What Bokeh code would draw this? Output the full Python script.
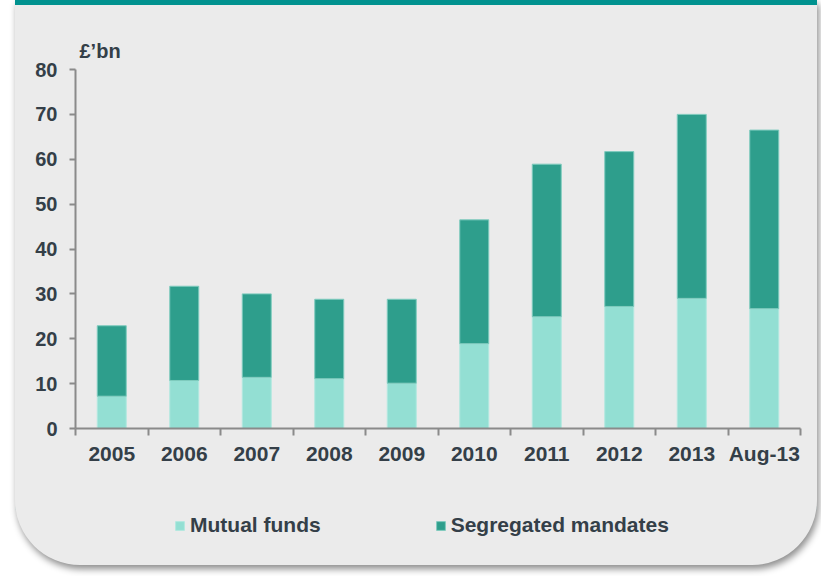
import numpy as np
from bokeh.plotting import figure
from bokeh.layouts import column
from bokeh.models import Range1d, FixedTicker, Legend, LegendItem, ColumnDataSource
from bokeh.embed import file_html
from bokeh.resources import INLINE

# ---- data ----
categories = ["2005", "2006", "2007", "2008", "2009", "2010", "2011", "2012", "2013", "Aug-13"]
mutual_funds = [7.2, 10.7, 11.4, 11.1, 10.1, 18.9, 24.9, 27.2, 29.0, 26.7]
segregated_mandates = [15.7, 21.0, 18.6, 17.7, 18.7, 27.6, 34.0, 34.5, 41.0, 39.8]
series_names = ["Mutual funds", "Segregated mandates"]
y_ticks = [0, 10, 20, 30, 40, 50, 60, 70, 80]
y_unit = "£’bn"

# ---- styles ----
FONT = "Liberation Sans"
TXT = "#343F48"
AXIS = "#8A8A8A"
FILL = ["#93DFD3", "#2E9E8C"]
EDGE = ["#B2E8DF", "#7FCBBE"]

n = len(categories)
x_centers = np.arange(n) + 0.5
x_bounds = np.arange(n + 1)

source = ColumnDataSource(dict(x=x_centers, mf=mutual_funds, seg=segregated_mandates))

p = figure(width=802, height=470, output_backend="svg", toolbar_location=None,
           x_range=Range1d(0, n), y_range=Range1d(0, 80),
           min_border_left=60, min_border_right=17, min_border_top=69, min_border_bottom=42)
p.border_fill_alpha = 0
p.background_fill_alpha = 0
p.outline_line_color = None
p.grid.visible = False

renderers = p.vbar_stack(["mf", "seg"], x="x", width=0.4, source=source,
                         fill_color=FILL, line_color=EDGE, line_width=1)

# x axis: labels at centres, ticks at category boundaries
xa = p.xaxis[0]
xa.ticker = FixedTicker(ticks=list(x_centers), minor_ticks=list(x_bounds))
xa.major_label_overrides = {float(c): lab for c, lab in zip(x_centers, categories)}
xa.major_tick_out = 0
xa.major_tick_in = 0
xa.minor_tick_out = 7
xa.minor_tick_in = 0
xa.minor_tick_line_color = AXIS
xa.minor_tick_line_width = 2
xa.axis_line_color = AXIS
xa.axis_line_width = 2
xa.major_label_standoff = 6
xa.major_label_text_font = FONT
xa.major_label_text_font_size = "21px"
xa.major_label_text_font_style = "bold"
xa.major_label_text_color = TXT

ya = p.yaxis[0]
ya.ticker = FixedTicker(ticks=y_ticks)
ya.minor_tick_line_color = None
ya.major_tick_out = 6
ya.major_tick_in = 0
ya.major_tick_line_color = AXIS
ya.major_tick_line_width = 2
ya.axis_line_color = AXIS
ya.axis_line_width = 2
ya.major_label_standoff = 12
ya.major_label_text_font = FONT
ya.major_label_text_font_size = "20px"
ya.major_label_text_font_style = "bold"
ya.major_label_text_color = TXT

p.title.text = y_unit
p.title.align = "left"
p.title.offset = 4
p.title.text_font = FONT
p.title.text_font_size = "20px"
p.title.text_font_style = "bold"
p.title.text_color = TXT
p.title.standoff = 15

# ---- legend strip (second figure, same card); its bars lie outside its view ----
lf = figure(width=802, height=95, output_backend="svg", toolbar_location=None,
            x_range=Range1d(0, n), y_range=Range1d(100, 101),
            x_axis_type=None, y_axis_type=None,
            min_border_left=0, min_border_right=0, min_border_top=0, min_border_bottom=0)
lf.border_fill_alpha = 0
lf.background_fill_alpha = 0
lf.outline_line_color = None
lf.grid.visible = False
swatches = lf.vbar_stack(["mf", "seg"], x="x", width=0.4, source=source,
                         fill_color=FILL, line_color=EDGE, line_width=1)

legend = Legend(items=[LegendItem(label=series_names[i], renderers=[swatches[i]])
                       for i in range(2)],
                orientation="horizontal", location=(99, 28),
                glyph_width=11, glyph_height=11, label_standoff=5, spacing=114,
                padding=0, margin=0, border_line_alpha=0, background_fill_alpha=0,
                label_text_font=FONT, label_text_font_size="21px",
                label_text_font_style="bold", label_text_color=TXT)
lf.add_layout(legend, "center")

layout = column(p, lf, spacing=0)
layout.margin = (0, 0, 0, 15)
layout.styles = {
    "background-color": "#EBEBEB",
    "border-radius": "0 0 65px 65px",
    "box-shadow": "inset 0 5px 0 #00928F, 2px 4px 7px rgba(0,0,0,0.45)",
}

open("out.html", "w").write(file_html(layout, INLINE))
